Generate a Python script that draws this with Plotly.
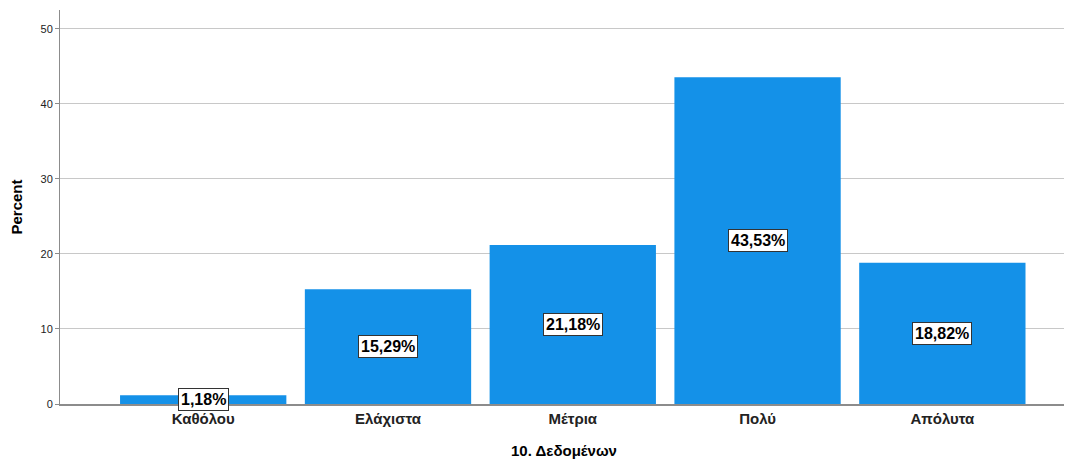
import plotly.graph_objects as go

# -- data
categories = ["Καθόλου", "Ελάχιστα", "Μέτρια", "Πολύ", "Απόλυτα"]
percent = [1.18, 15.29, 21.18, 43.53, 18.82]
labels = ["1,18%", "15,29%", "21,18%", "43,53%", "18,82%"]
y_ticks = [0, 10, 20, 30, 40, 50]

xpos = list(range(len(categories)))
font_family = "Liberation Sans, Arial, sans-serif"

fig = go.Figure()
fig.add_trace(go.Bar(
    x=xpos, y=percent, width=0.9,
    marker=dict(color="#1491E8", line=dict(width=0)),
    hoverinfo="skip",
))

# -- boxed value labels in the middle of each bar
for xi, v, lab in zip(xpos, percent, labels):
    fig.add_annotation(
        x=xi, y=v / 2, text="<b>" + lab + "</b>", showarrow=False,
        font=dict(family=font_family, size=16, color="black"),
        bgcolor="white", bordercolor="#333333", borderwidth=1, borderpad=2,
    )

# page body adds an 8px offset, so the figure is a bit smaller than the window
fig.update_layout(
    width=1064, height=453,
    margin=dict(l=52, r=4, t=2, b=57),
    plot_bgcolor="white", paper_bgcolor="white",
    showlegend=False,
    font=dict(family=font_family, color="black"),
)
fig.update_xaxes(
    range=[-0.775, 4.68],
    tickvals=xpos, ticktext=["<b>" + c + "</b>" for c in categories],
    tickfont=dict(size=15, color="#222222"),
    showline=True, linecolor="#8c8c8c", linewidth=2,
    showgrid=False, zeroline=False, ticks="",
    title=dict(text="<b>10. Δεδομένων</b>", font=dict(size=15), standoff=19),
    automargin=False,
)
fig.update_yaxes(
    range=[0, 52.5],
    tickvals=y_ticks,
    tickfont=dict(size=11, color="#222222"),
    showline=True, linecolor="#8c8c8c", linewidth=1,
    showgrid=True, gridcolor="#c8c8c8", gridwidth=1,
    zeroline=False, ticks="outside", ticklen=4, tickcolor="#8c8c8c",
    title=dict(text="<b>Percent</b>", font=dict(size=15), standoff=14),
    automargin=False,
)

fig.write_html("out.html")
